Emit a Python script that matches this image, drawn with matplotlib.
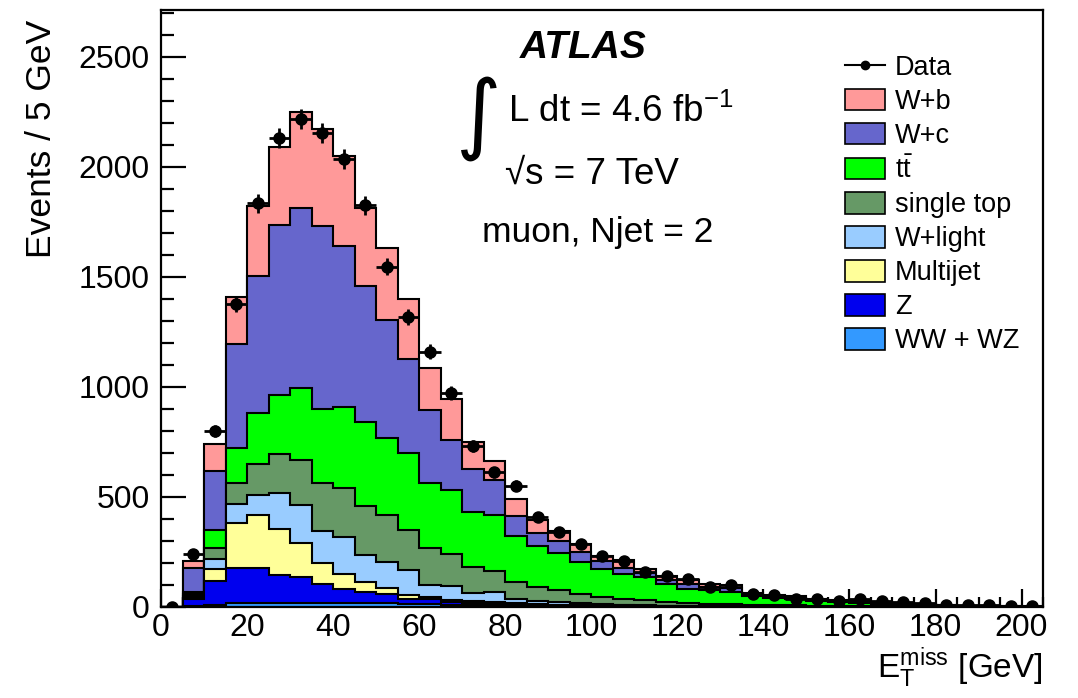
import numpy as np
import matplotlib
matplotlib.use("Agg")
import matplotlib.pyplot as plt
from matplotlib.lines import Line2D
from matplotlib.patches import Patch
from matplotlib.ticker import MultipleLocator

plt.rcParams['font.family'] = ['Liberation Sans', 'DejaVu Sans']
plt.rcParams['mathtext.fontset'] = 'custom'
plt.rcParams['mathtext.rm'] = 'Liberation Sans'
plt.rcParams['mathtext.it'] = 'Liberation Sans:italic'

# bin edges: 0..205 GeV in 5 GeV bins
bin_edges = np.arange(0, 206, 5)

data = [0, 241, 800, 1377, 1835, 2130, 2218, 2153, 2035, 1826, 1547, 1317, 1159, 974,
        731, 612, 552, 411, 340, 286, 233, 210, 158, 142, 128, 89, 98, 60, 55, 36, 36,
        25, 36, 28, 24, 20, 9, 8, 8, 6, 5]

ww_wz = [0, 5, 10, 17, 20, 20, 20, 20, 20, 18, 16, 14, 12, 10, 8, 7, 6, 5, 4, 4, 3,
         3, 3, 2, 2, 2, 2, 1, 1, 1, 1, 1, 1, 0, 0, 0, 0, 0, 0, 0, 0]
z_jets = [0, 31, 108, 162, 156, 125, 117, 86, 62, 49, 41, 22, 22, 14, 10, 8, 6, 5, 4, 3, 3,
          2, 1, 1, 1, 1, 0, 1, 1, 0, 0, 0, 0, 1, 1, 0, 0, 0, 0, 0, 0]
multijet = [0, 6, 55, 204, 242, 210, 152, 93, 68, 45, 28, 19, 10, 8, 9, 6, 4, 3, 2, 2, 2,
            2, 1, 1, 1, 0, 1, 1, 0, 1, 1, 0, 0, 0, 0, 1, 0, 0, 0, 0, 0]
w_light = [0, 8, 44, 84, 91, 162, 176, 145, 166, 124, 120, 113, 56, 63, 35, 46, 18, 16, 14, 8, 4,
           3, 3, 2, 1, 1, 1, 0, 1, 0, 0, 1, 1, 0, 0, 0, 1, 1, 0, 0, 0]
single_top = [0, 8, 53, 98, 141, 178, 203, 220, 223, 223, 213, 182, 167, 146, 118, 98, 79, 61, 53, 43, 32,
              25, 22, 16, 13, 10, 8, 7, 5, 5, 4, 3, 2, 2, 2, 1, 1, 0, 1, 1, 1]
ttbar = [0, 12, 80, 156, 230, 269, 326, 335, 369, 383, 349, 350, 298, 291, 253, 253, 208, 185, 167, 146, 129,
         115, 106, 84, 64, 64, 58, 38, 34, 28, 21, 16, 13, 11, 8, 7, 3, 3, 2, 1, 1]
w_c = [0, 109, 268, 474, 626, 772, 818, 834, 734, 617, 535, 426, 330, 227, 193, 159, 92, 61, 56, 46, 37,
       25, 17, 17, 22, 14, 18, 8, 8, 8, 6, 6, 7, 6, 5, 3, 2, 1, 1, 1, 0]
w_b = [0, 30, 123, 213, 314, 356, 436, 440, 408, 356, 328, 273, 193, 185, 126, 88, 76, 60, 47, 32, 20,
       39, 19, 18, 18, 12, 12, 6, 6, 5, 5, 5, 5, 4, 4, 3, 1, 1, 1, 1, 1]

# stacking order from bottom to top
components = [
    ("WW + WZ", ww_wz, "#3399FF"),
    ("Z", z_jets, "#0000EE"),
    ("Multijet", multijet, "#FFFF99"),
    ("W+light", w_light, "#99CCFF"),
    ("single top", single_top, "#669966"),
    (r"t$\mathrm{\bar{t}}$", ttbar, "#00FF00"),
    ("W+c", w_c, "#6666CC"),
    ("W+b", w_b, "#FF9999"),
]

fig = plt.figure(figsize=(10.78, 6.98), dpi=100)
ax = fig.add_axes([0.1494, 0.1304, 0.8182, 0.8553])

cum = np.cumsum(np.array([c[1] for c in components], dtype=float), axis=0)
for i in range(len(components) - 1, -1, -1):
    name, vals, col = components[i]
    ax.stairs(cum[i], bin_edges, baseline=0, fill=True, facecolor=col,
              edgecolor='black', linewidth=1.5, zorder=2 + (len(components) - i) * 0.01)

centers = 0.5 * (bin_edges[:-1] + bin_edges[1:])
d = np.array(data, dtype=float)
ax.errorbar(centers, d, xerr=2.5, yerr=np.sqrt(d), fmt='o', color='black',
            markersize=8, elinewidth=2, capsize=0, zorder=5)

ax.set_xlim(0, 205)
ax.set_ylim(0, 2713)
ax.xaxis.set_major_locator(MultipleLocator(20))
ax.xaxis.set_minor_locator(MultipleLocator(5))
ax.yaxis.set_major_locator(MultipleLocator(500))
ax.yaxis.set_minor_locator(MultipleLocator(100))
ax.tick_params(which='both', direction='in', top=False, right=False, labelsize=23, width=1.6)
ax.tick_params(axis='y', which='major', length=18, pad=8)
ax.tick_params(axis='y', which='minor', length=9)
ax.tick_params(axis='x', which='major', length=13, pad=4)
ax.tick_params(axis='x', which='minor', length=7)
for s in ax.spines.values():
    s.set_linewidth(1.6)

ax.set_ylabel("Events / 5 GeV", fontsize=25.5, loc='top')
ax.yaxis.set_label_coords(-0.117, 0.983)
ax.set_xlabel(r"E$_\mathrm{T}^\mathrm{miss}$ [GeV]", fontsize=24, loc='right', labelpad=2)

# annotations
fig.text(0.541, 0.931, "ATLAS", fontsize=28, fontweight='bold', fontstyle='italic',
         ha='center', va='center')
fig.text(0.444, 0.830, "\u222b", fontsize=63, ha='center', va='center',
         family=['DejaVu Sans'])
fig.text(0.471, 0.840, r"L dt = 4.6 fb$^{\mathregular{-1}}$", fontsize=26.5, ha='left', va='center')
fig.text(0.468, 0.750, "\u221as = 7 TeV", fontsize=26.5, ha='left', va='center')
fig.text(0.447, 0.667, "muon, Njet = 2", fontsize=25.5, ha='left', va='center')

# legend
handles = [Line2D([0], [0], color='black', marker='o', markersize=6, linewidth=1.5)]
labels = ["Data"]
for name, vals, col in components[::-1]:
    handles.append(Patch(facecolor=col, edgecolor='black', linewidth=1.2))
    labels.append(name)
leg = ax.legend(handles, labels, loc='upper left', bbox_to_anchor=(0.775, 0.925),
                frameon=False, fontsize=19.5, handlelength=1.5, handleheight=0.85,
                handletextpad=0.35, labelspacing=0.29, borderpad=0, borderaxespad=0)

fig.savefig("out.png", dpi=100)
